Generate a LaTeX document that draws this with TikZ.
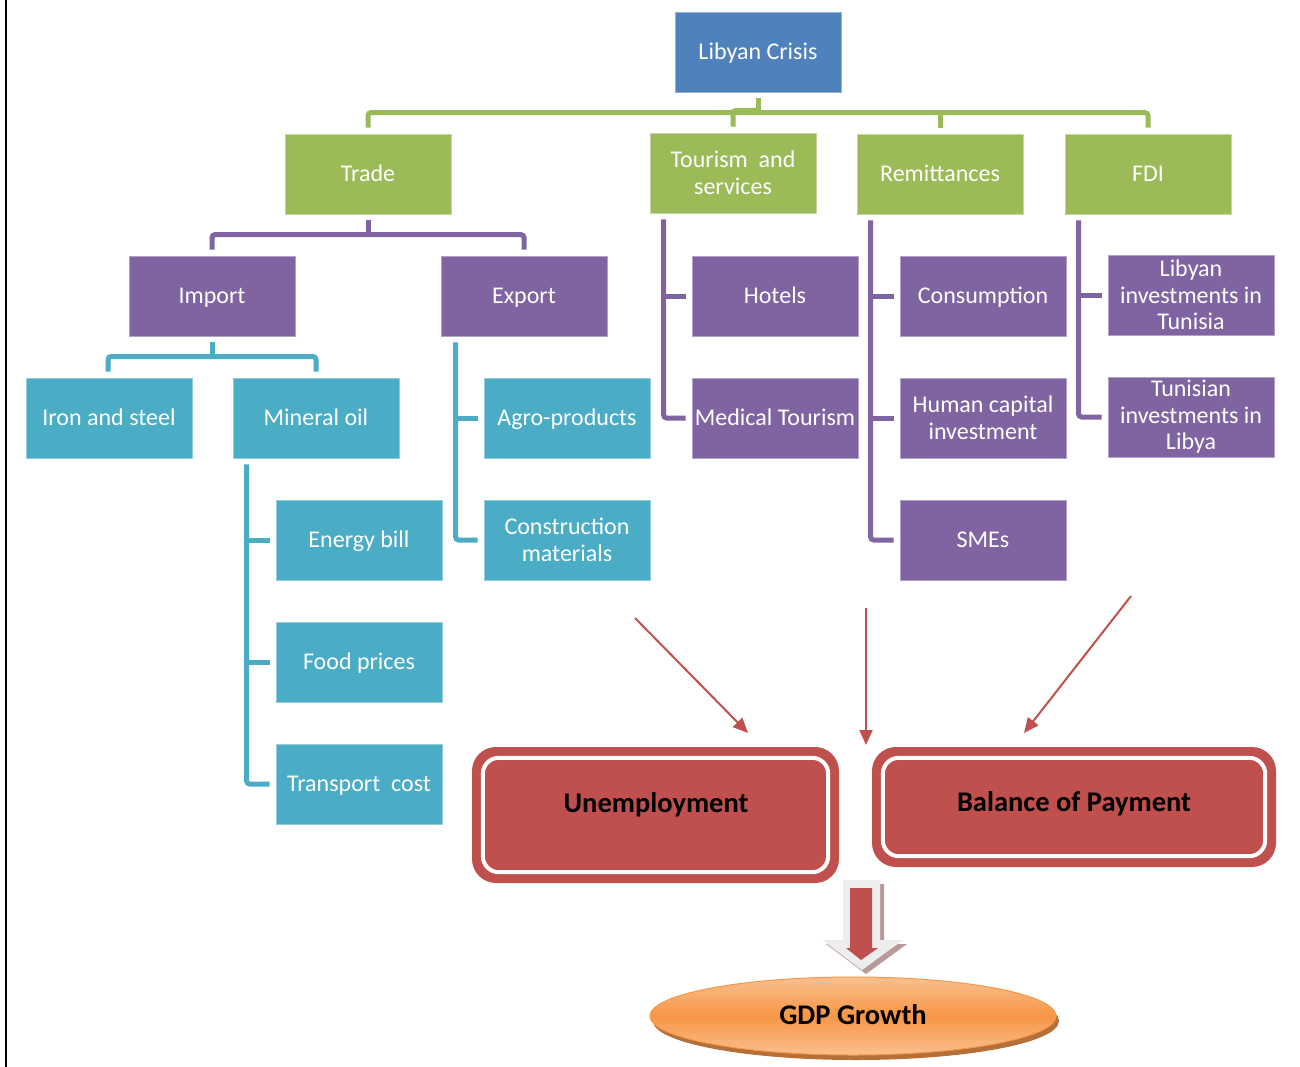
\documentclass[tikz,border=0pt]{standalone}
\usepackage{fontspec}
\setmainfont{Carlito}
\usetikzlibrary{arrows.meta,calc,shapes.geometric}
\definecolor{cblue}{HTML}{4F81BD}
\definecolor{cgreen}{HTML}{9BBB59}
\definecolor{cpurple}{HTML}{8064A2}
\definecolor{cteal}{HTML}{4BACC6}
\definecolor{cred}{HTML}{C0504D}
\definecolor{corange}{HTML}{F79646}
\definecolor{clorange}{HTML}{FAC08F}
\definecolor{cshadow}{HTML}{B5703A}
\definecolor{cgshadow}{HTML}{B89A9A}
\tikzset{
  box/.style={rectangle, minimum width=166pt, minimum height=80pt, inner sep=0pt,
    text=white, align=center, font=\fontsize{24}{26.5}\selectfont, line width=0.8pt},
  one/.style={text height=15.5pt, text depth=0pt},
  bbox/.style={box, fill=cblue, draw=cblue!60!white},
  gbox/.style={box, fill=cgreen, draw=cgreen!60!white},
  pbox/.style={box, fill=cpurple, draw=cpurple!60!white},
  tbox/.style={box, fill=cteal, draw=cteal!60!white},
  conn/.style={line width=5pt, rounded corners=3pt},
  gconn/.style={conn, draw=cgreen},
  pconn/.style={conn, draw=cpurple},
  tconn/.style={conn, draw=cteal},
  rarrow/.style={draw=cred, line width=2pt, -{Triangle[length=15pt,width=13pt]}},
  redbox/.style={rectangle, rounded corners=24pt, fill=cred, inner sep=0pt},
  inner/.style={draw=white, line width=4pt, rounded corners=16pt},
  boldlbl/.style={font=\fontsize{28.5}{32}\selectfont\bfseries, text=black, inner sep=0pt}
}
\begin{document}
\begin{tikzpicture}[x=1pt,y=-1pt]
\useasboundingbox (0,0) rectangle (1300,1067);
% left border
\draw[black, line width=2.5pt] (6,0) -- (6,1067);

% nodes
\node[bbox, one] (crisis) at (758,52) {Libyan Crisis};
\node[gbox, one] (trade) at (368,174) {Trade};
\node[gbox] (tour) at (733,173) {Tourism~ and\\services};
\node[gbox, one] (remit) at (940,174) {Remittances};
\node[gbox, one] (fdi) at (1148,174) {FDI};
\node[pbox, one] (import) at (212,296) {Import};
\node[pbox, one] (export) at (524,296) {Export};
\node[tbox, one] (iron) at (109,418) {Iron and steel};
\node[tbox, one] (mineral) at (316,418) {Mineral oil};
\node[tbox, one] (energy) at (359,540) {Energy bill};
\node[tbox, one] (food) at (359,662) {Food prices};
\node[tbox, one] (transport) at (359,784) {Transport~ cost};
\node[tbox, one] (agro) at (567,418) {Agro-products};
\node[tbox] (constr) at (567,540) {Construction\\materials};
\node[pbox, one] (hotels) at (775,296) {Hotels};
\node[pbox, one] (medical) at (775,418) {Medical Tourism};
\node[pbox, one] (consum) at (983,296) {Consumption};
\node[pbox] (human) at (983,418) {Human capital\\investment};
\node[pbox, one] (smes) at (983,540) {SMEs};
\node[pbox] (libinv) at (1191,295) {Libyan\\investments in\\Tunisia};
\node[pbox] (tuninv) at (1191,417) {Tunisian\\investments in\\Libya};

% green connectors
\draw[gconn] ($(trade.north)+(0,-6)$) |- ($(fdi.north)+(0,-21)$) -- ($(fdi.north)+(0,-6)$);
\draw[gconn] ($(crisis.south)+(0,6)$) -- ($(crisis.south)+(0,21)$);
\draw[gconn] ($(crisis.south)+(0,18)$) -| ($(tour.north)+(0,-6)$);
\draw[gconn] ($(remit.north)+(0,-21)$) -- ($(remit.north)+(0,-6)$);

% purple under trade
\draw[pconn] ($(trade.south)+(0,6)$) -- ($(trade.south)+(0,21)$);
\draw[pconn] ($(import.north)+(0,-6)$) |- ($(export.north)+(0,-21)$) -- ($(export.north)+(0,-6)$);

% teal under import
\draw[tconn] ($(import.south)+(0,6)$) -- ($(import.south)+(0,21)$);
\draw[tconn] ($(iron.north)+(-1,-6)$) |- ($(mineral.north)+(0,-21)$) -- ($(mineral.north)+(0,-6)$);

% mineral oil children
\draw[tconn] ($(mineral.south west)+(14,6)$) |- ($(transport.west)+(-6,0)$);
\draw[tconn] ($(energy.west)+(-6,0)$) -- ++(-25,0);
\draw[tconn] ($(food.west)+(-6,0)$) -- ++(-25,0);

% export children
\draw[tconn] ($(export.south west)+(15,6)$) |- ($(constr.west)+(-6,0)$);
\draw[tconn] ($(agro.west)+(-6,0)$) -- ++(-24,0);

% tourism children
\draw[pconn] ($(tour.south west)+(14,6)$) |- ($(medical.west)+(-6,0)$);
\draw[pconn] ($(hotels.west)+(-6,0)$) -- ++(-24,0);

% remittances children
\draw[pconn] ($(remit.south west)+(14,6)$) |- ($(smes.west)+(-6,0)$);
\draw[pconn] ($(consum.west)+(-6,0)$) -- ++(-25,0);
\draw[pconn] ($(human.west)+(-6,0)$) -- ++(-25,0);

% fdi children
\draw[pconn] ($(fdi.south west)+(14,6)$) |- ($(tuninv.west)+(-6,0)$);
\draw[pconn] ($(libinv.west)+(-6,0)$) -- ++(-25,0);

% red boxes
\node[redbox, minimum width=367pt, minimum height=136pt] (unemp) at (655.5,815) {};
\draw[inner] ($(unemp.north west)+(11,11)$) rectangle ($(unemp.south east)+(-11,-11)$);
\node[boldlbl] (unempt) at (656,805) {Unemployment};
\node[redbox, minimum width=404pt, minimum height=120pt] (bop) at (1074,807) {};
\draw[inner] ($(bop.north west)+(11,11)$) rectangle ($(bop.south east)+(-11,-11)$);
\node[boldlbl] (bopt) at (1074,804) {Balance of Payment};

% red arrows
\coordinate (a1s) at (635,618);
\coordinate (a1e) at (748,733);
\coordinate (a2s) at (866,608);
\coordinate (a2e) at (866,745);
\coordinate (a3s) at (1131,596);
\coordinate (a3e) at (1024,733);
\draw[rarrow] (a1s) -- (a1e);
\draw[rarrow] (a2s) -- (a2e);
\draw[rarrow] (a3s) -- (a3e);

% GDP ellipse
\node[ellipse, minimum width=406pt, minimum height=78pt, inner sep=0pt, fill=cshadow] (gdpsh) at (856,1021) {};
\node[ellipse, minimum width=406pt, minimum height=78pt, inner sep=0pt,
  top color=clorange, bottom color=clorange, middle color=corange, draw=corange, line width=1pt] (gdp) at (853,1016) {};
\node[boldlbl] (gdpt) at (853,1015) {GDP Growth};

% big down arrow
\coordinate (bigtip) at (862,970);
\fill[cgshadow] (847,884) -- (884,884) -- (884,944) -- (907,944) -- (866,974) -- (826,944) -- (847,944) -- cycle;
\fill[black!7] (843,880) -- (880,880) -- (880,940) -- (903,940) -- (bigtip) -- (822,940) -- (843,940) -- cycle;
\fill[cred] (850,888) -- (872,888) -- (872,948) -- (878,948) -- (861,960) -- (846,948) -- (850,948) -- cycle;
\end{tikzpicture}
\end{document}
